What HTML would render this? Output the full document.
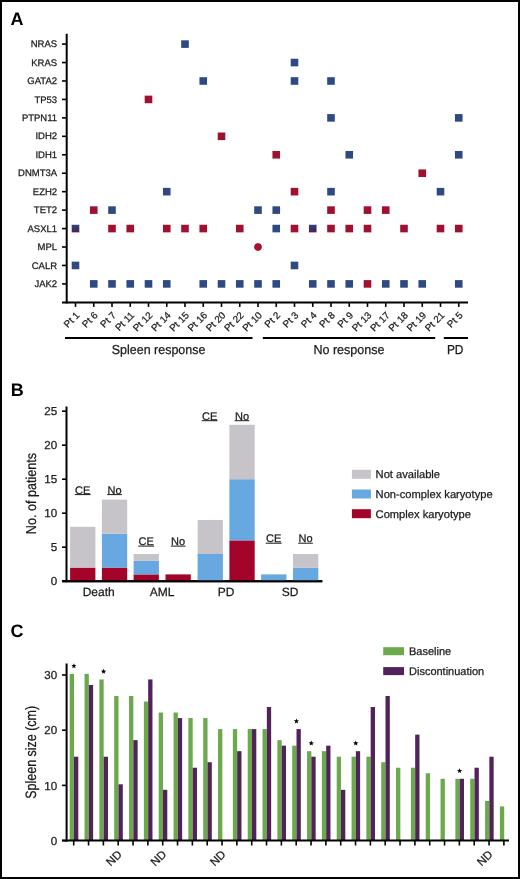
<!DOCTYPE html>
<html><head><meta charset="utf-8"><style>
html,body{margin:0;padding:0;background:#fff;}
#f{position:relative;width:520px;height:879px;box-sizing:border-box;border:2px solid #000;background:#fff;overflow:hidden;}
svg{position:absolute;left:-2px;top:-2px;will-change:transform;}
text{font-family:"Liberation Sans", sans-serif;text-rendering:geometricPrecision;stroke:#1a1a1a;stroke-width:0.25px;}
</style></head><body><div id="f">
<svg width="520" height="879" viewBox="0 0 520 879" font-family='"Liberation Sans", sans-serif'>
<defs><linearGradient id="mix" x1="0" y1="0" x2="0" y2="1"><stop offset="0" stop-color="#2f4678"/><stop offset="0.45" stop-color="#3a3466"/><stop offset="1" stop-color="#551c4c"/></linearGradient></defs>
<text x="10.6" y="25.1" font-size="18" font-weight="bold" fill="#000" style="stroke:none">A</text>
<line x1="66.7" y1="33.8" x2="66.7" y2="303.5" stroke="#000" stroke-width="2"/>
<line x1="62" y1="302.6" x2="468" y2="302.6" stroke="#000" stroke-width="2"/>
<line x1="62" y1="44.10" x2="66.7" y2="44.10" stroke="#000" stroke-width="1.6"/>
<text x="57.1" y="47.20" font-size="9.5" text-anchor="end" fill="#1a1a1a">NRAS</text>
<line x1="62" y1="62.55" x2="66.7" y2="62.55" stroke="#000" stroke-width="1.6"/>
<text x="57.1" y="65.65" font-size="9.5" text-anchor="end" fill="#1a1a1a">KRAS</text>
<line x1="62" y1="80.99" x2="66.7" y2="80.99" stroke="#000" stroke-width="1.6"/>
<text x="57.1" y="84.09" font-size="9.5" text-anchor="end" fill="#1a1a1a">GATA2</text>
<line x1="62" y1="99.44" x2="66.7" y2="99.44" stroke="#000" stroke-width="1.6"/>
<text x="57.1" y="102.54" font-size="9.5" text-anchor="end" fill="#1a1a1a">TP53</text>
<line x1="62" y1="117.88" x2="66.7" y2="117.88" stroke="#000" stroke-width="1.6"/>
<text x="57.1" y="120.98" font-size="9.5" text-anchor="end" fill="#1a1a1a">PTPN11</text>
<line x1="62" y1="136.33" x2="66.7" y2="136.33" stroke="#000" stroke-width="1.6"/>
<text x="57.1" y="139.43" font-size="9.5" text-anchor="end" fill="#1a1a1a">IDH2</text>
<line x1="62" y1="154.78" x2="66.7" y2="154.78" stroke="#000" stroke-width="1.6"/>
<text x="57.1" y="157.88" font-size="9.5" text-anchor="end" fill="#1a1a1a">IDH1</text>
<line x1="62" y1="173.22" x2="66.7" y2="173.22" stroke="#000" stroke-width="1.6"/>
<text x="57.1" y="176.32" font-size="9.5" text-anchor="end" fill="#1a1a1a">DNMT3A</text>
<line x1="62" y1="191.67" x2="66.7" y2="191.67" stroke="#000" stroke-width="1.6"/>
<text x="57.1" y="194.77" font-size="9.5" text-anchor="end" fill="#1a1a1a">EZH2</text>
<line x1="62" y1="210.11" x2="66.7" y2="210.11" stroke="#000" stroke-width="1.6"/>
<text x="57.1" y="213.21" font-size="9.5" text-anchor="end" fill="#1a1a1a">TET2</text>
<line x1="62" y1="228.56" x2="66.7" y2="228.56" stroke="#000" stroke-width="1.6"/>
<text x="57.1" y="231.66" font-size="9.5" text-anchor="end" fill="#1a1a1a">ASXL1</text>
<line x1="62" y1="247.01" x2="66.7" y2="247.01" stroke="#000" stroke-width="1.6"/>
<text x="57.1" y="250.11" font-size="9.5" text-anchor="end" fill="#1a1a1a">MPL</text>
<line x1="62" y1="265.45" x2="66.7" y2="265.45" stroke="#000" stroke-width="1.6"/>
<text x="57.1" y="268.55" font-size="9.5" text-anchor="end" fill="#1a1a1a">CALR</text>
<line x1="62" y1="283.90" x2="66.7" y2="283.90" stroke="#000" stroke-width="1.6"/>
<text x="57.1" y="287.00" font-size="9.5" text-anchor="end" fill="#1a1a1a">JAK2</text>
<line x1="75.50" y1="302" x2="75.50" y2="306.9" stroke="#000" stroke-width="1.6"/>
<text transform="translate(80.10,315.9) rotate(-45)" font-size="9.8" text-anchor="end" fill="#1a1a1a">Pt 1</text>
<line x1="93.75" y1="302" x2="93.75" y2="306.9" stroke="#000" stroke-width="1.6"/>
<text transform="translate(98.35,315.9) rotate(-45)" font-size="9.8" text-anchor="end" fill="#1a1a1a">Pt 6</text>
<line x1="112.00" y1="302" x2="112.00" y2="306.9" stroke="#000" stroke-width="1.6"/>
<text transform="translate(116.60,315.9) rotate(-45)" font-size="9.8" text-anchor="end" fill="#1a1a1a">Pt 7</text>
<line x1="130.25" y1="302" x2="130.25" y2="306.9" stroke="#000" stroke-width="1.6"/>
<text transform="translate(134.85,315.9) rotate(-45)" font-size="9.8" text-anchor="end" fill="#1a1a1a">Pt 11</text>
<line x1="148.50" y1="302" x2="148.50" y2="306.9" stroke="#000" stroke-width="1.6"/>
<text transform="translate(153.10,315.9) rotate(-45)" font-size="9.8" text-anchor="end" fill="#1a1a1a">Pt 12</text>
<line x1="166.75" y1="302" x2="166.75" y2="306.9" stroke="#000" stroke-width="1.6"/>
<text transform="translate(171.35,315.9) rotate(-45)" font-size="9.8" text-anchor="end" fill="#1a1a1a">Pt 14</text>
<line x1="185.00" y1="302" x2="185.00" y2="306.9" stroke="#000" stroke-width="1.6"/>
<text transform="translate(189.60,315.9) rotate(-45)" font-size="9.8" text-anchor="end" fill="#1a1a1a">Pt 15</text>
<line x1="203.25" y1="302" x2="203.25" y2="306.9" stroke="#000" stroke-width="1.6"/>
<text transform="translate(207.85,315.9) rotate(-45)" font-size="9.8" text-anchor="end" fill="#1a1a1a">Pt 16</text>
<line x1="221.50" y1="302" x2="221.50" y2="306.9" stroke="#000" stroke-width="1.6"/>
<text transform="translate(226.10,315.9) rotate(-45)" font-size="9.8" text-anchor="end" fill="#1a1a1a">Pt 20</text>
<line x1="239.75" y1="302" x2="239.75" y2="306.9" stroke="#000" stroke-width="1.6"/>
<text transform="translate(244.35,315.9) rotate(-45)" font-size="9.8" text-anchor="end" fill="#1a1a1a">Pt 22</text>
<line x1="258.00" y1="302" x2="258.00" y2="306.9" stroke="#000" stroke-width="1.6"/>
<text transform="translate(262.60,315.9) rotate(-45)" font-size="9.8" text-anchor="end" fill="#1a1a1a">Pt 10</text>
<line x1="276.25" y1="302" x2="276.25" y2="306.9" stroke="#000" stroke-width="1.6"/>
<text transform="translate(280.85,315.9) rotate(-45)" font-size="9.8" text-anchor="end" fill="#1a1a1a">Pt 2</text>
<line x1="294.50" y1="302" x2="294.50" y2="306.9" stroke="#000" stroke-width="1.6"/>
<text transform="translate(299.10,315.9) rotate(-45)" font-size="9.8" text-anchor="end" fill="#1a1a1a">Pt 3</text>
<line x1="312.75" y1="302" x2="312.75" y2="306.9" stroke="#000" stroke-width="1.6"/>
<text transform="translate(317.35,315.9) rotate(-45)" font-size="9.8" text-anchor="end" fill="#1a1a1a">Pt 4</text>
<line x1="331.00" y1="302" x2="331.00" y2="306.9" stroke="#000" stroke-width="1.6"/>
<text transform="translate(335.60,315.9) rotate(-45)" font-size="9.8" text-anchor="end" fill="#1a1a1a">Pt 8</text>
<line x1="349.25" y1="302" x2="349.25" y2="306.9" stroke="#000" stroke-width="1.6"/>
<text transform="translate(353.85,315.9) rotate(-45)" font-size="9.8" text-anchor="end" fill="#1a1a1a">Pt 9</text>
<line x1="367.50" y1="302" x2="367.50" y2="306.9" stroke="#000" stroke-width="1.6"/>
<text transform="translate(372.10,315.9) rotate(-45)" font-size="9.8" text-anchor="end" fill="#1a1a1a">Pt 13</text>
<line x1="385.75" y1="302" x2="385.75" y2="306.9" stroke="#000" stroke-width="1.6"/>
<text transform="translate(390.35,315.9) rotate(-45)" font-size="9.8" text-anchor="end" fill="#1a1a1a">Pt 17</text>
<line x1="404.00" y1="302" x2="404.00" y2="306.9" stroke="#000" stroke-width="1.6"/>
<text transform="translate(408.60,315.9) rotate(-45)" font-size="9.8" text-anchor="end" fill="#1a1a1a">Pt 18</text>
<line x1="422.25" y1="302" x2="422.25" y2="306.9" stroke="#000" stroke-width="1.6"/>
<text transform="translate(426.85,315.9) rotate(-45)" font-size="9.8" text-anchor="end" fill="#1a1a1a">Pt 19</text>
<line x1="440.50" y1="302" x2="440.50" y2="306.9" stroke="#000" stroke-width="1.6"/>
<text transform="translate(445.10,315.9) rotate(-45)" font-size="9.8" text-anchor="end" fill="#1a1a1a">Pt 21</text>
<line x1="458.75" y1="302" x2="458.75" y2="306.9" stroke="#000" stroke-width="1.6"/>
<text transform="translate(463.35,315.9) rotate(-45)" font-size="9.8" text-anchor="end" fill="#1a1a1a">Pt 5</text>
<rect x="181.20" y="40.30" width="7.6" height="7.6" fill="#2f4a80"/>
<rect x="290.70" y="58.75" width="7.6" height="7.6" fill="#2f4a80"/>
<rect x="199.45" y="77.19" width="7.6" height="7.6" fill="#2f4a80"/>
<rect x="290.70" y="77.19" width="7.6" height="7.6" fill="#2f4a80"/>
<rect x="327.20" y="77.19" width="7.6" height="7.6" fill="#2f4a80"/>
<rect x="144.70" y="95.64" width="7.6" height="7.6" fill="#a0102f"/>
<rect x="327.20" y="114.08" width="7.6" height="7.6" fill="#2f4a80"/>
<rect x="454.95" y="114.08" width="7.6" height="7.6" fill="#2f4a80"/>
<rect x="217.70" y="132.53" width="7.6" height="7.6" fill="#a0102f"/>
<rect x="272.45" y="150.98" width="7.6" height="7.6" fill="#a0102f"/>
<rect x="345.45" y="150.98" width="7.6" height="7.6" fill="#2f4a80"/>
<rect x="454.95" y="150.98" width="7.6" height="7.6" fill="#2f4a80"/>
<rect x="418.45" y="169.42" width="7.6" height="7.6" fill="#a0102f"/>
<rect x="162.95" y="187.87" width="7.6" height="7.6" fill="#2f4a80"/>
<rect x="290.70" y="187.87" width="7.6" height="7.6" fill="#a0102f"/>
<rect x="327.20" y="187.87" width="7.6" height="7.6" fill="#2f4a80"/>
<rect x="436.70" y="187.87" width="7.6" height="7.6" fill="#2f4a80"/>
<rect x="89.95" y="206.31" width="7.6" height="7.6" fill="#a0102f"/>
<rect x="108.20" y="206.31" width="7.6" height="7.6" fill="#2f4a80"/>
<rect x="254.20" y="206.31" width="7.6" height="7.6" fill="#2f4a80"/>
<rect x="272.45" y="206.31" width="7.6" height="7.6" fill="#2f4a80"/>
<rect x="327.20" y="206.31" width="7.6" height="7.6" fill="#a0102f"/>
<rect x="363.70" y="206.31" width="7.6" height="7.6" fill="#a0102f"/>
<rect x="381.95" y="206.31" width="7.6" height="7.6" fill="#a0102f"/>
<rect x="71.70" y="224.76" width="7.6" height="7.6" fill="url(#mix)"/>
<rect x="108.20" y="224.76" width="7.6" height="7.6" fill="#a0102f"/>
<rect x="126.45" y="224.76" width="7.6" height="7.6" fill="#a0102f"/>
<rect x="162.95" y="224.76" width="7.6" height="7.6" fill="#a0102f"/>
<rect x="181.20" y="224.76" width="7.6" height="7.6" fill="#a0102f"/>
<rect x="199.45" y="224.76" width="7.6" height="7.6" fill="#a0102f"/>
<rect x="235.95" y="224.76" width="7.6" height="7.6" fill="#a0102f"/>
<rect x="272.45" y="224.76" width="7.6" height="7.6" fill="#2f4a80"/>
<rect x="290.70" y="224.76" width="7.6" height="7.6" fill="#a0102f"/>
<rect x="308.95" y="224.76" width="7.6" height="7.6" fill="url(#mix)"/>
<rect x="327.20" y="224.76" width="7.6" height="7.6" fill="#a0102f"/>
<rect x="345.45" y="224.76" width="7.6" height="7.6" fill="#a0102f"/>
<rect x="363.70" y="224.76" width="7.6" height="7.6" fill="#a0102f"/>
<rect x="400.20" y="224.76" width="7.6" height="7.6" fill="#a0102f"/>
<rect x="436.70" y="224.76" width="7.6" height="7.6" fill="#a0102f"/>
<rect x="454.95" y="224.76" width="7.6" height="7.6" fill="#a0102f"/>
<circle cx="258.00" cy="247.01" r="3.45" fill="#b3102f" stroke="#7e0a24" stroke-width="0.8"/>
<rect x="71.70" y="261.65" width="7.6" height="7.6" fill="#2f4a80"/>
<rect x="290.70" y="261.65" width="7.6" height="7.6" fill="#2f4a80"/>
<rect x="89.95" y="280.10" width="7.6" height="7.6" fill="#2f4a80"/>
<rect x="108.20" y="280.10" width="7.6" height="7.6" fill="#2f4a80"/>
<rect x="126.45" y="280.10" width="7.6" height="7.6" fill="#2f4a80"/>
<rect x="144.70" y="280.10" width="7.6" height="7.6" fill="#2f4a80"/>
<rect x="162.95" y="280.10" width="7.6" height="7.6" fill="#2f4a80"/>
<rect x="199.45" y="280.10" width="7.6" height="7.6" fill="#2f4a80"/>
<rect x="217.70" y="280.10" width="7.6" height="7.6" fill="#2f4a80"/>
<rect x="235.95" y="280.10" width="7.6" height="7.6" fill="#2f4a80"/>
<rect x="254.20" y="280.10" width="7.6" height="7.6" fill="#2f4a80"/>
<rect x="272.45" y="280.10" width="7.6" height="7.6" fill="#2f4a80"/>
<rect x="308.95" y="280.10" width="7.6" height="7.6" fill="#2f4a80"/>
<rect x="327.20" y="280.10" width="7.6" height="7.6" fill="#2f4a80"/>
<rect x="345.45" y="280.10" width="7.6" height="7.6" fill="#2f4a80"/>
<rect x="363.70" y="280.10" width="7.6" height="7.6" fill="#a0102f"/>
<rect x="381.95" y="280.10" width="7.6" height="7.6" fill="#2f4a80"/>
<rect x="400.20" y="280.10" width="7.6" height="7.6" fill="#2f4a80"/>
<rect x="418.45" y="280.10" width="7.6" height="7.6" fill="#2f4a80"/>
<rect x="454.95" y="280.10" width="7.6" height="7.6" fill="#2f4a80"/>
<rect x="65" y="337" width="187.5" height="2" fill="#000"/>
<rect x="262.8" y="337" width="172.4" height="2" fill="#000"/>
<rect x="443.8" y="337" width="24.2" height="2" fill="#000"/>
<text x="111.80" y="353.9" font-size="13" textLength="93.6" lengthAdjust="spacingAndGlyphs" fill="#1a1a1a" >Spleen response</text>
<text x="313.40" y="353.9" font-size="13" textLength="71.2" lengthAdjust="spacingAndGlyphs" fill="#1a1a1a" >No response</text>
<text x="446.90" y="353.9" font-size="13" textLength="16.6" lengthAdjust="spacingAndGlyphs" fill="#1a1a1a" >PD</text>
<text x="10.8" y="396.3" font-size="18" font-weight="bold" fill="#000" style="stroke:none">B</text>
<line x1="66.5" y1="406.5" x2="66.5" y2="582.2" stroke="#000" stroke-width="2"/>
<line x1="62" y1="581.2" x2="322.3" y2="581.2" stroke="#000" stroke-width="2"/>
<line x1="62" y1="581.20" x2="66.5" y2="581.20" stroke="#000" stroke-width="1.6"/>
<text x="57.2" y="585.30" font-size="11.6" text-anchor="end" fill="#1a1a1a">0</text>
<line x1="62" y1="547.20" x2="66.5" y2="547.20" stroke="#000" stroke-width="1.6"/>
<text x="57.2" y="551.30" font-size="11.6" text-anchor="end" fill="#1a1a1a">5</text>
<line x1="62" y1="513.20" x2="66.5" y2="513.20" stroke="#000" stroke-width="1.6"/>
<text x="57.2" y="517.30" font-size="11.6" text-anchor="end" fill="#1a1a1a">10</text>
<line x1="62" y1="479.20" x2="66.5" y2="479.20" stroke="#000" stroke-width="1.6"/>
<text x="57.2" y="483.30" font-size="11.6" text-anchor="end" fill="#1a1a1a">15</text>
<line x1="62" y1="445.20" x2="66.5" y2="445.20" stroke="#000" stroke-width="1.6"/>
<text x="57.2" y="449.30" font-size="11.6" text-anchor="end" fill="#1a1a1a">20</text>
<line x1="62" y1="411.20" x2="66.5" y2="411.20" stroke="#000" stroke-width="1.6"/>
<text x="57.2" y="415.30" font-size="11.6" text-anchor="end" fill="#1a1a1a">25</text>
<rect x="70.1" y="567.60" width="25.3" height="13.60" fill="#a3052a"/>
<rect x="70.1" y="526.80" width="25.3" height="40.80" fill="#c6c4c8"/>
<rect x="101.9" y="567.60" width="25.3" height="13.60" fill="#a3052a"/>
<rect x="101.9" y="533.60" width="25.3" height="34.00" fill="#68a8e0"/>
<rect x="101.9" y="499.60" width="25.3" height="34.00" fill="#c6c4c8"/>
<rect x="133.6" y="574.40" width="25.3" height="6.80" fill="#a3052a"/>
<rect x="133.6" y="560.80" width="25.3" height="13.60" fill="#68a8e0"/>
<rect x="133.6" y="554.00" width="25.3" height="6.80" fill="#c6c4c8"/>
<rect x="165.5" y="574.40" width="25.3" height="6.80" fill="#a3052a"/>
<rect x="197.6" y="554.00" width="25.3" height="27.20" fill="#68a8e0"/>
<rect x="197.6" y="520.00" width="25.3" height="34.00" fill="#c6c4c8"/>
<rect x="229.4" y="540.40" width="25.3" height="40.80" fill="#a3052a"/>
<rect x="229.4" y="479.20" width="25.3" height="61.20" fill="#68a8e0"/>
<rect x="229.4" y="424.80" width="25.3" height="54.40" fill="#c6c4c8"/>
<rect x="261.1" y="574.40" width="25.3" height="6.80" fill="#68a8e0"/>
<rect x="293.0" y="567.60" width="25.3" height="13.60" fill="#68a8e0"/>
<rect x="293.0" y="554.00" width="25.3" height="13.60" fill="#c6c4c8"/>
<line x1="62" y1="581.2" x2="322.3" y2="581.2" stroke="#000" stroke-width="2"/>
<text x="98.7" y="596.2" font-size="12" text-anchor="middle" fill="#1a1a1a">Death</text>
<text x="162.0" y="596.2" font-size="12" text-anchor="middle" fill="#1a1a1a">AML</text>
<text x="226.0" y="596.2" font-size="12" text-anchor="middle" fill="#1a1a1a">PD</text>
<text x="290.0" y="596.2" font-size="12" text-anchor="middle" fill="#1a1a1a">SD</text>
<text x="82.7" y="493.8" font-size="11" text-anchor="middle" fill="#1a1a1a">CE</text>
<rect x="74.76" y="494.10" width="15.88" height="1.0" fill="#1a1a1a"/>
<text x="114.5" y="493.8" font-size="11" text-anchor="middle" fill="#1a1a1a">No</text>
<rect x="107.17" y="494.10" width="14.66" height="1.0" fill="#1a1a1a"/>
<text x="146.2" y="545.3" font-size="11" text-anchor="middle" fill="#1a1a1a">CE</text>
<rect x="138.26" y="545.60" width="15.88" height="1.0" fill="#1a1a1a"/>
<text x="178.1" y="545.3" font-size="11" text-anchor="middle" fill="#1a1a1a">No</text>
<rect x="170.77" y="545.60" width="14.66" height="1.0" fill="#1a1a1a"/>
<text x="209.6" y="419.9" font-size="11" text-anchor="middle" fill="#1a1a1a">CE</text>
<rect x="201.66" y="420.20" width="15.88" height="1.0" fill="#1a1a1a"/>
<text x="242.0" y="419.9" font-size="11" text-anchor="middle" fill="#1a1a1a">No</text>
<rect x="234.67" y="420.20" width="14.66" height="1.0" fill="#1a1a1a"/>
<text x="273.7" y="542.4" font-size="11" text-anchor="middle" fill="#1a1a1a">CE</text>
<rect x="265.76" y="542.70" width="15.88" height="1.0" fill="#1a1a1a"/>
<text x="305.5" y="542.4" font-size="11" text-anchor="middle" fill="#1a1a1a">No</text>
<rect x="298.17" y="542.70" width="14.66" height="1.0" fill="#1a1a1a"/>
<text transform="translate(36.1,534.2) rotate(-90)" font-size="14.3" textLength="81.2" lengthAdjust="spacingAndGlyphs" fill="#1a1a1a">No. of patients</text>
<rect x="351.9" y="469.80" width="19" height="9" fill="#c6c4c8"/>
<text x="375.6" y="478.40" font-size="11.15" fill="#1a1a1a">Not available</text>
<rect x="351.9" y="489.50" width="19" height="9" fill="#68a8e0"/>
<text x="375.6" y="498.10" font-size="11.15" fill="#1a1a1a">Non-complex karyotype</text>
<rect x="351.9" y="509.20" width="19" height="9" fill="#a3052a"/>
<text x="375.6" y="517.80" font-size="11.15" fill="#1a1a1a">Complex karyotype</text>
<text x="10.6" y="636.6" font-size="18" font-weight="bold" fill="#000" style="stroke:none">C</text>
<line x1="66.6" y1="663.5" x2="66.6" y2="841.6" stroke="#000" stroke-width="2"/>
<line x1="62" y1="840.60" x2="66.6" y2="840.60" stroke="#000" stroke-width="1.6"/>
<text x="57.2" y="844.70" font-size="11.6" text-anchor="end" fill="#1a1a1a">0</text>
<line x1="62" y1="785.40" x2="66.6" y2="785.40" stroke="#000" stroke-width="1.6"/>
<text x="57.2" y="789.50" font-size="11.6" text-anchor="end" fill="#1a1a1a">10</text>
<line x1="62" y1="730.20" x2="66.6" y2="730.20" stroke="#000" stroke-width="1.6"/>
<text x="57.2" y="734.30" font-size="11.6" text-anchor="end" fill="#1a1a1a">20</text>
<line x1="62" y1="675.00" x2="66.6" y2="675.00" stroke="#000" stroke-width="1.6"/>
<text x="57.2" y="679.10" font-size="11.6" text-anchor="end" fill="#1a1a1a">30</text>
<rect x="69.70" y="673.90" width="4.3" height="166.60" fill="#6ca84c"/>
<rect x="74.00" y="756.70" width="4.3" height="83.80" fill="#52225b"/>
<line x1="73.70" y1="841" x2="73.70" y2="845.5" stroke="#000" stroke-width="1.6"/>
<polygon points="73.90,663.25 74.61,665.03 76.52,665.15 75.04,666.37 75.52,668.22 73.90,667.20 72.28,668.22 72.76,666.37 71.28,665.15 73.19,665.03" fill="#000"/>
<rect x="84.53" y="673.90" width="4.3" height="166.60" fill="#6ca84c"/>
<rect x="88.83" y="684.94" width="4.3" height="155.56" fill="#52225b"/>
<line x1="88.53" y1="841" x2="88.53" y2="845.5" stroke="#000" stroke-width="1.6"/>
<rect x="99.37" y="679.42" width="4.3" height="161.08" fill="#6ca84c"/>
<rect x="103.67" y="756.70" width="4.3" height="83.80" fill="#52225b"/>
<line x1="103.37" y1="841" x2="103.37" y2="845.5" stroke="#000" stroke-width="1.6"/>
<polygon points="103.57,668.77 104.27,670.55 106.18,670.67 104.71,671.89 105.18,673.74 103.57,672.72 101.95,673.74 102.43,671.89 100.95,670.67 102.86,670.55" fill="#000"/>
<rect x="114.20" y="695.98" width="4.3" height="144.52" fill="#6ca84c"/>
<rect x="118.50" y="784.30" width="4.3" height="56.20" fill="#52225b"/>
<line x1="118.20" y1="841" x2="118.20" y2="845.5" stroke="#000" stroke-width="1.6"/>
<text transform="translate(122.60,855.0) rotate(-45)" font-size="11.5" text-anchor="end" fill="#1a1a1a">ND</text>
<rect x="129.04" y="695.98" width="4.3" height="144.52" fill="#6ca84c"/>
<rect x="133.34" y="740.14" width="4.3" height="100.36" fill="#52225b"/>
<line x1="133.04" y1="841" x2="133.04" y2="845.5" stroke="#000" stroke-width="1.6"/>
<rect x="143.87" y="701.50" width="4.3" height="139.00" fill="#6ca84c"/>
<rect x="148.17" y="679.42" width="4.3" height="161.08" fill="#52225b"/>
<line x1="147.87" y1="841" x2="147.87" y2="845.5" stroke="#000" stroke-width="1.6"/>
<rect x="158.70" y="712.54" width="4.3" height="127.96" fill="#6ca84c"/>
<rect x="163.00" y="789.82" width="4.3" height="50.68" fill="#52225b"/>
<line x1="162.70" y1="841" x2="162.70" y2="845.5" stroke="#000" stroke-width="1.6"/>
<text transform="translate(167.10,855.0) rotate(-45)" font-size="11.5" text-anchor="end" fill="#1a1a1a">ND</text>
<rect x="173.54" y="712.54" width="4.3" height="127.96" fill="#6ca84c"/>
<rect x="177.84" y="718.06" width="4.3" height="122.44" fill="#52225b"/>
<line x1="177.54" y1="841" x2="177.54" y2="845.5" stroke="#000" stroke-width="1.6"/>
<rect x="188.37" y="718.06" width="4.3" height="122.44" fill="#6ca84c"/>
<rect x="192.67" y="767.74" width="4.3" height="72.76" fill="#52225b"/>
<line x1="192.37" y1="841" x2="192.37" y2="845.5" stroke="#000" stroke-width="1.6"/>
<rect x="203.21" y="718.06" width="4.3" height="122.44" fill="#6ca84c"/>
<rect x="207.51" y="762.22" width="4.3" height="78.28" fill="#52225b"/>
<line x1="207.21" y1="841" x2="207.21" y2="845.5" stroke="#000" stroke-width="1.6"/>
<rect x="218.04" y="729.10" width="4.3" height="111.40" fill="#6ca84c"/>
<line x1="222.04" y1="841" x2="222.04" y2="845.5" stroke="#000" stroke-width="1.6"/>
<text transform="translate(226.44,855.0) rotate(-45)" font-size="11.5" text-anchor="end" fill="#1a1a1a">ND</text>
<rect x="232.87" y="729.10" width="4.3" height="111.40" fill="#6ca84c"/>
<rect x="237.17" y="751.18" width="4.3" height="89.32" fill="#52225b"/>
<line x1="236.87" y1="841" x2="236.87" y2="845.5" stroke="#000" stroke-width="1.6"/>
<rect x="247.71" y="729.10" width="4.3" height="111.40" fill="#6ca84c"/>
<rect x="252.01" y="729.10" width="4.3" height="111.40" fill="#52225b"/>
<line x1="251.71" y1="841" x2="251.71" y2="845.5" stroke="#000" stroke-width="1.6"/>
<rect x="262.54" y="729.10" width="4.3" height="111.40" fill="#6ca84c"/>
<rect x="266.84" y="707.02" width="4.3" height="133.48" fill="#52225b"/>
<line x1="266.54" y1="841" x2="266.54" y2="845.5" stroke="#000" stroke-width="1.6"/>
<rect x="277.38" y="740.14" width="4.3" height="100.36" fill="#6ca84c"/>
<rect x="281.68" y="745.66" width="4.3" height="94.84" fill="#52225b"/>
<line x1="281.38" y1="841" x2="281.38" y2="845.5" stroke="#000" stroke-width="1.6"/>
<rect x="292.21" y="745.66" width="4.3" height="94.84" fill="#6ca84c"/>
<rect x="296.51" y="729.10" width="4.3" height="111.40" fill="#52225b"/>
<line x1="296.21" y1="841" x2="296.21" y2="845.5" stroke="#000" stroke-width="1.6"/>
<polygon points="296.41,718.45 297.12,720.23 299.03,720.35 297.55,721.57 298.03,723.42 296.41,722.40 294.79,723.42 295.27,721.57 293.79,720.35 295.70,720.23" fill="#000"/>
<rect x="307.04" y="751.18" width="4.3" height="89.32" fill="#6ca84c"/>
<rect x="311.34" y="756.70" width="4.3" height="83.80" fill="#52225b"/>
<line x1="311.04" y1="841" x2="311.04" y2="845.5" stroke="#000" stroke-width="1.6"/>
<polygon points="311.24,740.53 311.95,742.31 313.86,742.43 312.39,743.65 312.86,745.50 311.24,744.48 309.63,745.50 310.10,743.65 308.63,742.43 310.54,742.31" fill="#000"/>
<rect x="321.88" y="751.18" width="4.3" height="89.32" fill="#6ca84c"/>
<rect x="326.18" y="745.66" width="4.3" height="94.84" fill="#52225b"/>
<line x1="325.88" y1="841" x2="325.88" y2="845.5" stroke="#000" stroke-width="1.6"/>
<rect x="336.71" y="756.70" width="4.3" height="83.80" fill="#6ca84c"/>
<rect x="341.01" y="789.82" width="4.3" height="50.68" fill="#52225b"/>
<line x1="340.71" y1="841" x2="340.71" y2="845.5" stroke="#000" stroke-width="1.6"/>
<rect x="351.55" y="756.70" width="4.3" height="83.80" fill="#6ca84c"/>
<rect x="355.85" y="751.18" width="4.3" height="89.32" fill="#52225b"/>
<line x1="355.55" y1="841" x2="355.55" y2="845.5" stroke="#000" stroke-width="1.6"/>
<polygon points="355.75,740.53 356.45,742.31 358.36,742.43 356.89,743.65 357.36,745.50 355.75,744.48 354.13,745.50 354.60,743.65 353.13,742.43 355.04,742.31" fill="#000"/>
<rect x="366.38" y="756.70" width="4.3" height="83.80" fill="#6ca84c"/>
<rect x="370.68" y="707.02" width="4.3" height="133.48" fill="#52225b"/>
<line x1="370.38" y1="841" x2="370.38" y2="845.5" stroke="#000" stroke-width="1.6"/>
<rect x="381.21" y="762.22" width="4.3" height="78.28" fill="#6ca84c"/>
<rect x="385.51" y="695.98" width="4.3" height="144.52" fill="#52225b"/>
<line x1="385.21" y1="841" x2="385.21" y2="845.5" stroke="#000" stroke-width="1.6"/>
<rect x="396.05" y="767.74" width="4.3" height="72.76" fill="#6ca84c"/>
<line x1="400.05" y1="841" x2="400.05" y2="845.5" stroke="#000" stroke-width="1.6"/>
<rect x="410.88" y="767.74" width="4.3" height="72.76" fill="#6ca84c"/>
<rect x="415.18" y="734.62" width="4.3" height="105.88" fill="#52225b"/>
<line x1="414.88" y1="841" x2="414.88" y2="845.5" stroke="#000" stroke-width="1.6"/>
<rect x="425.72" y="773.26" width="4.3" height="67.24" fill="#6ca84c"/>
<line x1="429.72" y1="841" x2="429.72" y2="845.5" stroke="#000" stroke-width="1.6"/>
<rect x="440.55" y="778.78" width="4.3" height="61.72" fill="#6ca84c"/>
<line x1="444.55" y1="841" x2="444.55" y2="845.5" stroke="#000" stroke-width="1.6"/>
<rect x="455.38" y="778.78" width="4.3" height="61.72" fill="#6ca84c"/>
<rect x="459.68" y="778.78" width="4.3" height="61.72" fill="#52225b"/>
<line x1="459.38" y1="841" x2="459.38" y2="845.5" stroke="#000" stroke-width="1.6"/>
<polygon points="459.58,768.13 460.29,769.91 462.20,770.03 460.73,771.25 461.20,773.10 459.58,772.08 457.97,773.10 458.44,771.25 456.97,770.03 458.88,769.91" fill="#000"/>
<rect x="470.22" y="778.78" width="4.3" height="61.72" fill="#6ca84c"/>
<rect x="474.52" y="767.74" width="4.3" height="72.76" fill="#52225b"/>
<line x1="474.22" y1="841" x2="474.22" y2="845.5" stroke="#000" stroke-width="1.6"/>
<rect x="485.05" y="800.86" width="4.3" height="39.64" fill="#6ca84c"/>
<rect x="489.35" y="756.70" width="4.3" height="83.80" fill="#52225b"/>
<line x1="489.05" y1="841" x2="489.05" y2="845.5" stroke="#000" stroke-width="1.6"/>
<text transform="translate(493.45,855.0) rotate(-45)" font-size="11.5" text-anchor="end" fill="#1a1a1a">ND</text>
<rect x="499.89" y="806.38" width="4.3" height="34.12" fill="#6ca84c"/>
<line x1="503.89" y1="841" x2="503.89" y2="845.5" stroke="#000" stroke-width="1.6"/>
<line x1="62" y1="840.6" x2="509" y2="840.6" stroke="#000" stroke-width="2"/>
<text transform="translate(35.8,798.7) rotate(-90)" font-size="15" textLength="92.8" lengthAdjust="spacingAndGlyphs" fill="#1a1a1a">Spleen size (cm)</text>
<rect x="383.2" y="647.20" width="20.8" height="8" fill="#6ca84c"/>
<text x="409" y="655.00" font-size="11" fill="#1a1a1a">Baseline</text>
<rect x="383.2" y="667.10" width="20.8" height="8" fill="#52225b"/>
<text x="409" y="674.90" font-size="11" fill="#1a1a1a">Discontinuation</text>
</svg></div></body></html>
